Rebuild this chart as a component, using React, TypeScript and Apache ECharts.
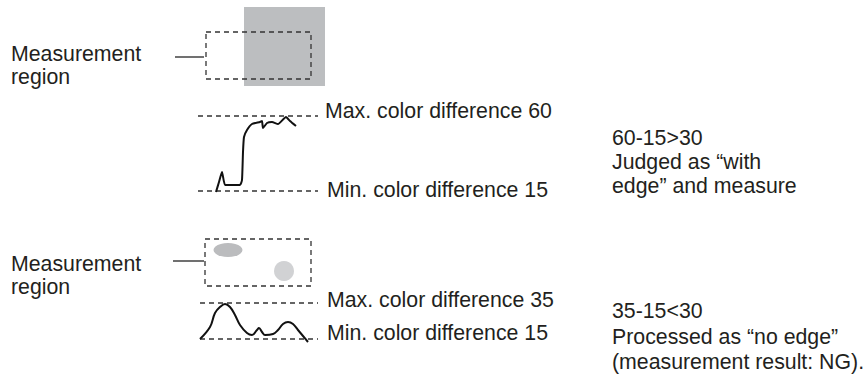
import React, { useEffect, useRef } from "react";
import * as echarts from "echarts";

// Canvas coordinates (pixels) are used as the data space of a hidden grid.
const WIDTH = 866;
const HEIGHT = 376;

// Upper example: edge present
const region1 = [[206, 32], [311, 32], [311, 79], [206, 79], [206, 32]];
const grayBlock = [[244, 7, 325, 86]];
const leader1 = [[175, 57], [204, 57]];
const maxLine1 = [[198, 116], [318, 116]];
const minLine1 = [[198, 191], [318, 191]];
const profile1 = [
  [216, 192], [219, 182], [222, 172], [225, 185], [232, 185], [240, 185],
  [242, 180], [243, 152], [244, 137], [247, 130], [252, 124], [260, 122],
  [262, 121], [263, 128], [267, 123], [272, 122], [278, 124], [286, 117],
  [290, 121], [296, 126],
];

// Lower example: no edge
const region2 = [[205, 239], [311, 239], [311, 286], [205, 286], [205, 239]];
const leader2 = [[173, 261], [204, 261]];
const spotEllipse = [[228, 250]];
const spotCircle = [[284, 271]];
const maxLine2 = [[200, 303], [318, 303]];
const minLine2 = [[200, 339], [318, 339]];
const profile2 = [
  [200, 339], [210, 327], [215, 313], [220, 307], [225, 304], [230, 307],
  [235, 315], [240, 325], [247, 333], [252, 335], [257, 330], [259, 328],
  [262, 332], [265, 335], [273, 334], [278, 330], [283, 324], [288, 322],
  [293, 324], [298, 330], [303, 336], [308, 342],
];

// Texts: [text, x, baseline]
const labels: [string, number, number][] = [
  ["Measurement", 11, 61],
  ["region", 11, 84],
  ["Max. color difference 60", 325, 118],
  ["Min. color difference 15", 327, 197],
  ["60-15>30", 612, 145],
  ["Judged as \u201cwith", 612, 169],
  ["edge\u201d and measure", 612, 193],
  ["Measurement", 11, 271],
  ["region", 11, 294],
  ["Max. color difference 35", 327, 307],
  ["Min. color difference 15", 327, 340],
  ["35-15<30", 612, 318],
  ["Processed as \u201cno edge\u201d", 612, 344],
  ["(measurement result: NG).", 612, 369],
];

const INK = "#231f20";
const FONT = '"Liberation Sans", Arial, Helvetica, sans-serif';
const FONT_SIZE = 21.3;

function dashed(data: number[][]) {
  return {
    type: "line",
    data,
    symbol: "none",
    silent: true,
    z: 5,
    lineStyle: { color: "#333333", width: 1.3, type: [5, 4] },
  };
}

function solid(data: number[][], width: number, smooth: number) {
  return {
    type: "line",
    data,
    symbol: "none",
    silent: true,
    smooth,
    z: 6,
    lineStyle: { color: "#111111", width },
  };
}

export default function App() {
  const ref = useRef<HTMLDivElement>(null);

  useEffect(() => {
    if (!ref.current) return;
    const chart = echarts.init(ref.current, undefined, { renderer: "svg" });
    chart.setOption({
      animation: false,
      backgroundColor: "#ffffff",
      grid: { left: 0, right: 0, top: 0, bottom: 0 },
      xAxis: { type: "value", min: 0, max: WIDTH, show: false },
      yAxis: { type: "value", min: 0, max: HEIGHT, inverse: true, show: false },
      series: [
        {
          type: "custom",
          data: grayBlock,
          encode: { x: [0, 2], y: [1, 3] },
          z: 1,
          silent: true,
          renderItem: (_p: any, api: any) => {
            const a = api.coord([api.value(0), api.value(1)]);
            const b = api.coord([api.value(2), api.value(3)]);
            return {
              type: "rect",
              shape: { x: a[0], y: a[1], width: b[0] - a[0], height: b[1] - a[1] },
              style: { fill: "#bcbec0" },
            };
          },
        },
        dashed(region1),
        dashed(maxLine1),
        dashed(minLine1),
        dashed(region2),
        dashed(maxLine2),
        dashed(minLine2),
        solid(leader1, 1.2, 0),
        solid(leader2, 1.2, 0),
        solid(profile1, 2, 0.15),
        solid(profile2, 2, 0.4),
        {
          type: "scatter",
          data: spotEllipse,
          symbol: "circle",
          symbolSize: [29, 14],
          silent: true,
          z: 2,
          itemStyle: { color: "#bbbcbe", opacity: 1 },
        },
        {
          type: "scatter",
          data: spotCircle,
          symbol: "circle",
          symbolSize: 20,
          silent: true,
          z: 2,
          itemStyle: { color: "#d1d2d4", opacity: 1 },
        },
      ],
      graphic: labels.map(([text, x, base]) => ({
        type: "text",
        x,
        y: base - 7.5,
        silent: true,
        style: {
          text,
          fill: INK,
          font: `${FONT_SIZE}px ${FONT}`,
          verticalAlign: "middle",
          align: "left",
        },
      })),
    });
    return () => chart.dispose();
  }, []);

  return (
    <div
      ref={ref}
      style={{ position: "fixed", left: 0, top: 0, width: WIDTH, height: HEIGHT, background: "#fff" }}
    />
  );
}
